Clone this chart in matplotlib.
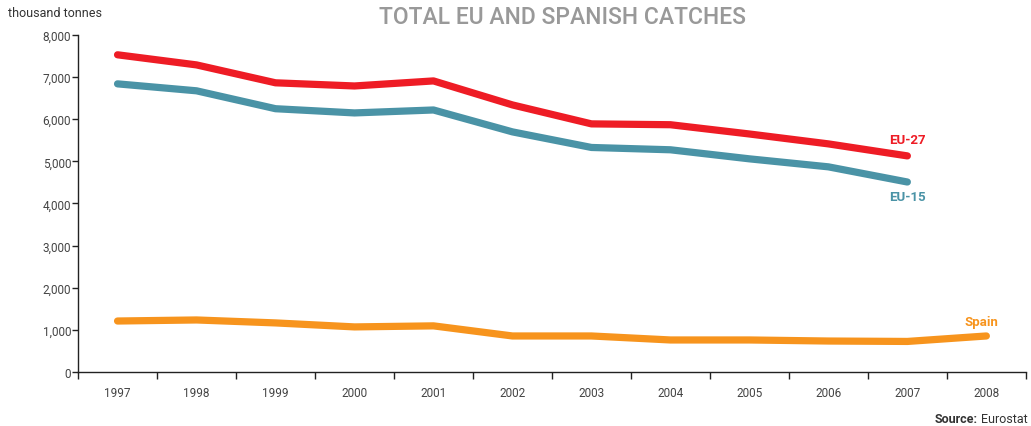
import numpy as np
import matplotlib.pyplot as plt
from matplotlib.ticker import FuncFormatter, MultipleLocator

years = ['1997', '1998', '1999', '2000', '2001', '2002',
         '2003', '2004', '2005', '2006', '2007', '2008']
# thousand tonnes
eu27 = [7530, 7290, 6865, 6790, 6910, 6340, 5890, 5870, 5650, 5415, 5130]
eu15 = [6840, 6675, 6250, 6150, 6220, 5700, 5330, 5275, 5060, 4870, 4510]
spain = [1210, 1235, 1165, 1070, 1095, 855, 855, 760, 760, 735, 725, 855]

RED = '#ee1c25'
TEAL = '#4a93a6'
ORANGE = '#f7941d'
plt.rcParams['font.family'] = ['Roboto', 'DejaVu Sans']

fig = plt.figure(figsize=(10.31, 4.27), dpi=100)
ax = fig.add_axes([0.0757, 0.1265, 0.9193, 0.7892])

x = np.arange(len(years))
ax.plot(x[:len(eu27)], eu27, color=RED, lw=5.2, solid_capstyle='round', solid_joinstyle='round')
ax.plot(x[:len(eu15)], eu15, color=TEAL, lw=5.2, solid_capstyle='round', solid_joinstyle='round')
ax.plot(x, spain, color=ORANGE, lw=5.2, solid_capstyle='round', solid_joinstyle='round')

ax.text(len(eu27) - 1, eu27[-1] + 400, 'EU-27', color=RED, fontsize=9.5, fontweight='bold',
        ha='center', va='center')
ax.text(len(eu15) - 1, eu15[-1] - 355, 'EU-15', color=TEAL, fontsize=9.5, fontweight='bold',
        ha='center', va='center')
ax.text(len(years) - 1.06, spain[-1] + 355, 'Spain', color=ORANGE, fontsize=9.5, fontweight='bold',
        ha='center', va='center')

ax.set_xlim(-0.5, len(years) - 0.5)
ax.set_ylim(0, 8000)
ax.yaxis.set_major_locator(MultipleLocator(1000))
ax.yaxis.set_major_formatter(FuncFormatter(lambda v, p: f'{int(v):,}'))
ax.set_xticks(x)
ax.set_xticklabels(years)
ax.set_xticks(np.arange(-0.5, len(years)), minor=True)
ax.tick_params(axis='x', which='major', length=0, pad=10, labelsize=8.5, labelcolor='#444444')
ax.tick_params(axis='x', which='minor', length=5, width=1, color='#222222', direction='out')
ax.tick_params(axis='y', length=4, width=1, color='#222222', labelsize=8.5, labelcolor='#444444', pad=1)

for s in ['top', 'right']:
    ax.spines[s].set_visible(False)
for s in ['left', 'bottom']:
    ax.spines[s].set_color('#222222')
    ax.spines[s].set_linewidth(1)

fig.text(0.008, 0.968, 'thousand tonnes', fontsize=9, color='#333333', ha='left', va='center')
fig.text(0.546, 0.958, 'TOTAL EU AND SPANISH CATCHES', fontsize=16.5, color='#999999',
         ha='center', va='center', fontweight='medium')
src = fig.text(0.997, 0.018, 'Eurostat', fontsize=9, color='#333333', ha='right', va='center')
fig.canvas.draw()
bb = src.get_window_extent()
fig.text(bb.x0 / fig.bbox.width - 0.003, 0.018, 'Source:', fontsize=9, color='#333333',
         ha='right', va='center', fontweight='bold')

fig.savefig('out.png', dpi=100)
